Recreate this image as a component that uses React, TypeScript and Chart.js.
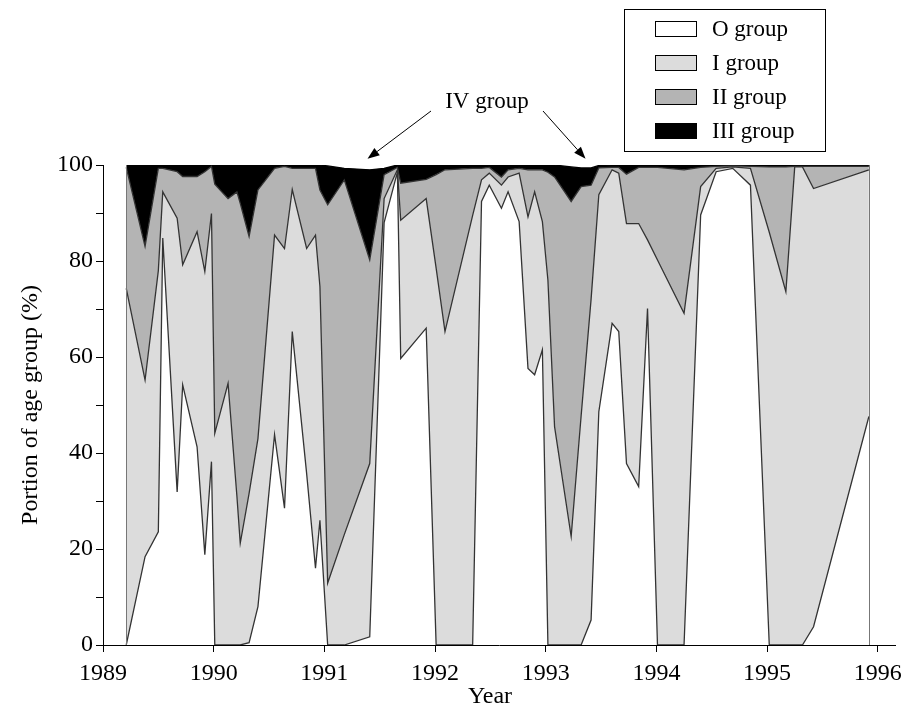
import React, { useEffect, useRef } from 'react';
import { Chart, registerables } from 'chart.js';

Chart.register(...registerables);

// ---- data (portion of each age group, %) ----
const sampleYears = [
  1989.21, 1989.38, 1989.50, 1989.54, 1989.67, 1989.72, 1989.85, 1989.92, 1989.98, 1990.01,
  1990.13, 1990.21, 1990.24, 1990.32, 1990.40, 1990.55, 1990.64, 1990.71, 1990.84, 1990.92,
  1990.96, 1991.03, 1991.18, 1991.41, 1991.54, 1991.66, 1991.69, 1991.92, 1992.01, 1992.09,
  1992.34, 1992.42, 1992.49, 1992.60, 1992.66, 1992.76, 1992.84, 1992.90, 1992.97, 1993.02,
  1993.08, 1993.23, 1993.32, 1993.41, 1993.48, 1993.60, 1993.66, 1993.73, 1993.84, 1993.92,
  1994.01, 1994.25, 1994.40, 1994.54, 1994.69, 1994.85, 1995.02, 1995.17, 1995.25, 1995.32,
  1995.42, 1995.92,
];

const groupO = [
  0, 18.4, 23.6, 84.8, 31.9, 54.2, 41.3, 18.8, 38.2, 0,
  0, 0, 0, 0.5, 8.0, 43.8, 28.5, 65.3, 35.7, 16.0,
  26.0, 0, 0, 1.7, 88, 98.5, 59.7, 66.0, 0, 0,
  0, 92.4, 95.8, 91.0, 94.4, 88.2, 57.6, 56.3, 61.5, 0,
  0, 0, 0, 5.2, 48.6, 67.0, 65.3, 37.8, 33.0, 70.1,
  0, 0, 89.6, 98.6, 99.3, 95.8, 0, 0, 0, 0,
  3.8, 47.6,
];

const groupI = [
  74.3, 36.8, 54.4, 9.6, 57.0, 25.0, 44.8, 59.0, 51.7, 44.1,
  54.5, 31.0, 21.2, 31.1, 35.0, 41.6, 54.1, 29.6, 46.9, 69.4,
  48.7, 12.9, 23.0, 36.1, 5.0, 0.5, 28.8, 27.0, 78.5, 65.3,
  89.5, 4.5, 2.5, 4.8, 3.1, 10.1, 31.6, 38.1, 26.7, 76.0,
  45.5, 22.6, 47.7, 66.8, 45.2, 32.0, 33.0, 50.0, 54.8, 14.3,
  80.2, 69.1, 5.9, 0.7, 0.3, 3.5, 86.0, 73.6, 99.6, 99.6,
  91.3, 51.4,
];

const groupII = [
  25.2, 27.8, 21.3, 4.9, 9.7, 18.4, 11.5, 20.8, 9.8, 51.9,
  38.5, 63.4, 70.8, 53.5, 51.8, 13.9, 17.1, 4.4, 16.7, 13.9,
  20.1, 78.8, 73.9, 42.4, 5.0, 0.5, 7.7, 4.0, 19.5, 33.7,
  9.8, 2.4, 1.2, 1.7, 1.5, 1.0, 9.8, 4.6, 10.8, 22.5,
  52.0, 69.8, 47.8, 23.8, 5.6, 0.5, 1.2, 10.3, 11.7, 15.1,
  19.3, 29.9, 4.0, 0.4, 0.2, 0.4, 13.6, 26.0, 0.1, 0.1,
  4.6, 0.7,
];

const groupIII = [
  0.5, 17.0, 0.7, 0.7, 1.4, 2.4, 2.4, 1.4, 0.3, 4.0,
  7.0, 5.6, 8.0, 14.9, 5.2, 0.7, 0.3, 0.7, 0.7, 0.7,
  5.2, 8.1, 2.4, 18.8, 1.3, 0.5, 3.8, 3.0, 2.0, 1.0,
  0.7, 0.7, 0.5, 2.5, 1.0, 0.7, 1.0, 1.0, 1.0, 1.5,
  2.5, 7.2, 3.9, 3.6, 0.5, 0.5, 0.5, 1.9, 0.5, 0.5,
  0.5, 1.0, 0.5, 0.3, 0.2, 0.3, 0.4, 0.4, 0.3, 0.3,
  0.3, 0.3,
];

const groupLabels = ['O group', 'I group', 'II group', 'III group'];
const groupColors = ['#ffffff', '#dcdcdc', '#b4b4b4', '#000000'];
const xTickYears = [1989, 1990, 1991, 1992, 1993, 1994, 1995, 1996];
const yTickValues = [0, 10, 20, 30, 40, 50, 60, 70, 80, 90, 100];
const ivLabel = 'IV group';
const ivArrowTargets = [1991.39, 1993.36]; // years the arrows point to
const xTitle = 'Year';
const yTitle = 'Portion of age group (%)';

const FONT = '"Liberation Serif", "Times New Roman", serif';

function drawArrow(ctx: CanvasRenderingContext2D, x0: number, y0: number, x1: number, y1: number) {
  const ang = Math.atan2(y1 - y0, x1 - x0);
  const head = 12;
  const half = 4.5;
  const bx = x1 - head * Math.cos(ang);
  const by = y1 - head * Math.sin(ang);
  ctx.beginPath();
  ctx.moveTo(x0, y0);
  ctx.lineTo(bx, by);
  ctx.stroke();
  ctx.beginPath();
  ctx.moveTo(x1, y1);
  ctx.lineTo(bx + half * Math.sin(ang), by - half * Math.cos(ang));
  ctx.lineTo(bx - half * Math.sin(ang), by + half * Math.cos(ang));
  ctx.closePath();
  ctx.fill();
}

const overlayPlugin = {
  id: 'overlayPlugin',
  afterDatasetsDraw(chart: any) {
    const ctx: CanvasRenderingContext2D = chart.ctx;
    const xs = chart.scales.x;
    const ys = chart.scales.y;
    ctx.save();
    ctx.strokeStyle = '#777';
    ctx.lineWidth = 1;
    [0, sampleYears.length - 1].forEach((i) => {
      const total = groupO[i] + groupI[i] + groupII[i] + groupIII[i];
      const px = Math.round(xs.getPixelForValue(sampleYears[i])) + 0.5;
      ctx.beginPath();
      ctx.moveTo(px, ys.getPixelForValue(0));
      ctx.lineTo(px, ys.getPixelForValue(total));
      ctx.stroke();
    });
    ctx.restore();
  },
  afterDraw(chart: any) {
    const ctx: CanvasRenderingContext2D = chart.ctx;
    const xs = chart.scales.x;
    const ys = chart.scales.y;
    ctx.save();
    ctx.fillStyle = '#000';
    ctx.strokeStyle = '#000';

    // axis titles
    ctx.font = `24px ${FONT}`;
    ctx.textAlign = 'center';
    ctx.textBaseline = 'middle';
    ctx.fillText(xTitle, 490, 697);
    ctx.save();
    ctx.translate(31, (chart.chartArea.top + chart.chartArea.bottom) / 2);
    ctx.rotate(-Math.PI / 2);
    ctx.fillText(yTitle, 0, 0);
    ctx.restore();

    // IV group annotation
    ctx.font = `23px ${FONT}`;
    ctx.fillText(ivLabel, 487, 102);
    ctx.lineWidth = 1;
    const tipY = ys.getPixelForValue(101.3);
    drawArrow(ctx, 431, 111, xs.getPixelForValue(ivArrowTargets[0]), tipY);
    drawArrow(ctx, 543, 111, xs.getPixelForValue(ivArrowTargets[1]), tipY);

    // legend box
    ctx.lineWidth = 1;
    ctx.strokeRect(624.5, 9.5, 201, 142);
    const rows = [29, 63, 97, 131];
    ctx.textAlign = 'left';
    ctx.font = `23px ${FONT}`;
    groupLabels.forEach((lab, i) => {
      const y = rows[i];
      ctx.fillStyle = groupColors[i];
      ctx.fillRect(655.5, y - 7.5, 41, 15);
      ctx.strokeStyle = '#000';
      ctx.strokeRect(655.5, y - 7.5, 41, 15);
      ctx.fillStyle = '#000';
      ctx.fillText(lab, 712, y + 1);
    });
    ctx.restore();
  },
};

export default function App() {
  const canvasRef = useRef<HTMLCanvasElement | null>(null);

  useEffect(() => {
    document.body.style.margin = '0';
    document.body.style.overflow = 'hidden';
    const canvas = canvasRef.current;
    if (!canvas) return;
    const series = [groupO, groupI, groupII, groupIII];
    const chart = new Chart(canvas, {
      type: 'line',
      data: {
        datasets: series.map((vals, i) => ({
          label: groupLabels[i],
          data: vals.map((v, k) => ({ x: sampleYears[k], y: v })),
          backgroundColor: groupColors[i],
          borderColor: i === 3 ? '#000' : '#333',
          borderWidth: 1.3,
          pointRadius: 0,
          tension: 0,
          fill: i === 0 ? 'origin' : '-1',
        })),
      },
      options: {
        responsive: false,
        animation: false,
        devicePixelRatio: 1,
        layout: { padding: { top: 165, right: 12, left: 0, bottom: 0 } },
        plugins: {
          legend: { display: false },
          tooltip: { enabled: false },
          title: { display: false },
        },
        scales: {
          x: {
            type: 'linear',
            min: 1989,
            max: 1996.162,
            afterBuildTicks: (s: any) => {
              s.ticks = xTickYears.map((v) => ({ value: v }));
            },
            afterFit: (s: any) => {
              s.height = 64;
            },
            grid: { drawOnChartArea: false, tickLength: 7, color: '#000', tickColor: '#000' },
            border: { color: '#000', width: 1 },
            ticks: {
              color: '#000',
              font: { family: FONT, size: 24 },
              padding: 7,
              autoSkip: false,
              maxRotation: 0,
              callback: (v: any) => String(v),
            },
          },
          y: {
            type: 'linear',
            stacked: true,
            min: 0,
            max: 100,
            afterBuildTicks: (s: any) => {
              s.ticks = yTickValues.map((v) => ({ value: v }));
            },
            afterFit: (s: any) => {
              s.width = 103;
            },
            grid: { drawOnChartArea: false, tickLength: 7, color: '#000', tickColor: '#000' },
            border: { color: '#000', width: 1 },
            ticks: {
              color: '#000',
              font: { family: FONT, size: 24 },
              padding: 3,
              callback: (v: any) => (Number(v) % 20 === 0 ? String(v) : ''),
            },
          },
        },
      },
      plugins: [overlayPlugin],
    });
    return () => chart.destroy();
  }, []);

  return <canvas ref={canvasRef} width={909} height={709} style={{ display: 'block' }} />;
}
